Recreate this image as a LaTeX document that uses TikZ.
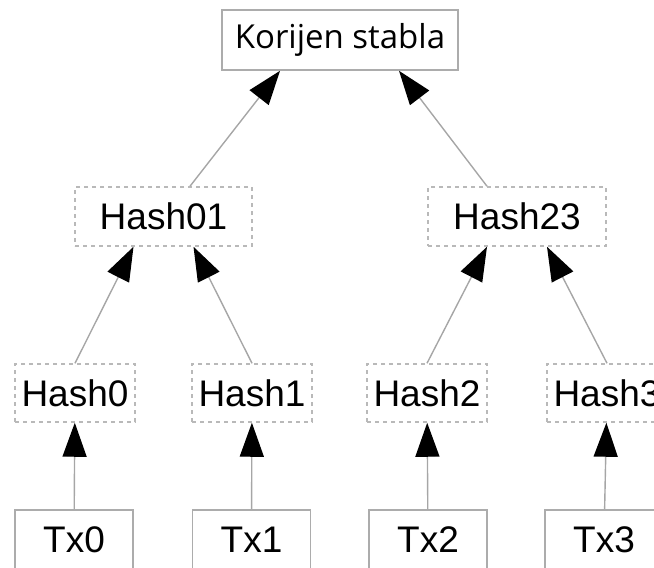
\documentclass[tikz,border=0pt]{standalone}
\usepackage{fontspec}
\setmainfont{Liberation Sans}
\newfontfamily\rootfont{Open Sans}
\usepackage{tikz}
\usetikzlibrary{arrows.meta}
\tikzstyle{block} = [rectangle, minimum width=118pt, minimum height=60pt, text centered, draw=gray!65, line width=1.6pt, fill=white, font=\fontsize{37}{44}\selectfont]
\tikzstyle{hashblock} = [rectangle, minimum width=120pt, minimum height=58pt, text centered, draw=gray!55, line width=1.5pt, dash pattern=on 4pt off 4pt, font=\fontsize{37}{44}\selectfont]
\tikzstyle{arrow} = [draw=gray!70, line width=1.4pt, -{Triangle[length=34pt, width=24pt, color=black]}]

\begin{document}
\begin{tikzpicture}[x=1pt, y=-1pt]
\useasboundingbox (0,0) rectangle (654,568);

\node (root) [block, minimum width=236pt, font=\rootfont\fontsize{33}{40}\selectfont] at (340,40) {Korijen stabla};
\node (hash01) [hashblock, minimum width=177pt, minimum height=59pt] at (163.5,216.5) {Hash01};
\node (hash23) [hashblock, minimum width=178pt, minimum height=59pt] at (517,216.5) {Hash23};
\node (hash0) [hashblock] at (75,393) {Hash0};
\node (hash1) [hashblock] at (252,393) {Hash1};
\node (hash2) [hashblock] at (427,393) {Hash2};
\node (hash3) [hashblock] at (607,393) {Hash3};
\node (tx0) [block] at (74,540) {Tx0};
\node (tx1) [block] at (251.5,540) {Tx1};
\node (tx2) [block] at (428,540) {Tx2};
\node (tx3) [block] at (604,540) {Tx3};

\draw [arrow] (tx0) -- (hash0);
\draw [arrow] (tx1) -- (hash1);
\draw [arrow] (tx2) -- (hash2);
\draw [arrow] (tx3) -- (hash3);

\draw [arrow] (hash0.north) -- ([xshift=-30pt]hash01.south);
\draw [arrow] (hash1.north) -- ([xshift=30pt]hash01.south);
\draw [arrow] (hash2.north) -- ([xshift=-30pt]hash23.south);
\draw [arrow] (hash3.north) -- ([xshift=30pt]hash23.south);

\draw [arrow] ([xshift=26.5pt]hash01.north) -- ([xshift=-60pt]root.south);
\draw [arrow] ([xshift=-30pt]hash23.north) -- ([xshift=59pt]root.south);

\end{tikzpicture}
\end{document}
